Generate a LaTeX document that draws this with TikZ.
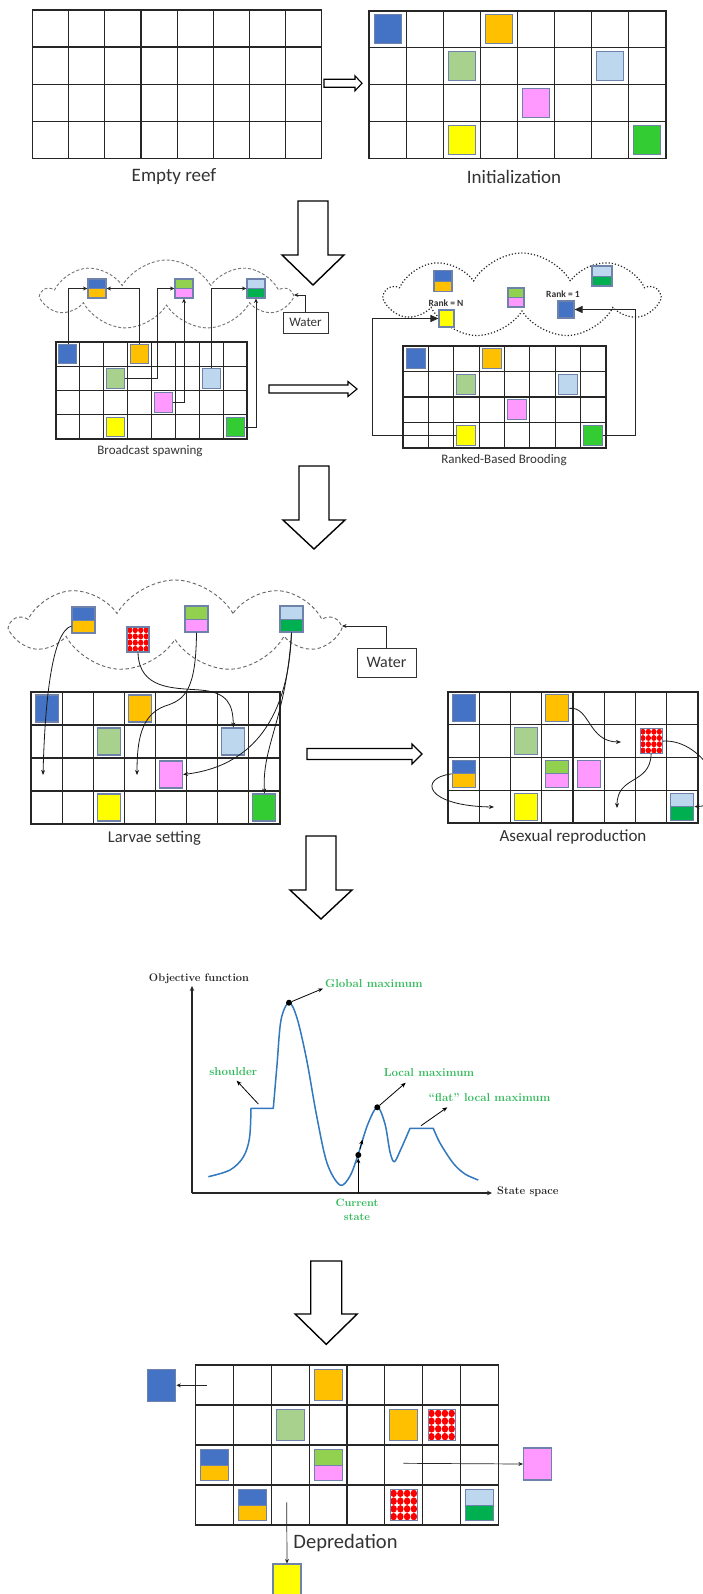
\documentclass[tikz,border=0pt]{standalone}
\usepackage{fontspec}
\usetikzlibrary{shapes.symbols,arrows.meta,calc}
\newfontfamily\carl{Carlito}
\definecolor{cblue}{RGB}{68,114,196}
\definecolor{corange}{RGB}{255,192,0}
\definecolor{clgreen}{RGB}{169,209,142}
\definecolor{clblue}{RGB}{189,215,238}
\definecolor{cpink}{RGB}{255,153,255}
\definecolor{cyellow}{RGB}{255,255,0}
\definecolor{cgreen}{RGB}{51,204,51}
\definecolor{cdgreen}{RGB}{0,176,80}
\definecolor{clime}{RGB}{146,208,80}
\definecolor{sqedge}{RGB}{110,130,170}
\definecolor{gtext}{RGB}{50,185,90}
\definecolor{curveblue}{RGB}{50,120,190}
\tikzset{
 gridln/.style={draw=black!85, line width=1.2pt},
 sq/.style={draw=sqedge, line width=1.1pt, inner sep=0pt},
 conn/.style={draw=black!85, line width=0.7pt, -{Stealth[length=4.5pt,width=4pt]}},
 connbig/.style={draw=black!85, line width=0.9pt, -{Triangle[length=8pt,width=7pt]}},
 curv/.style={draw=black!90, line width=0.8pt, -{Stealth[length=5pt,width=4pt]}},
 hollow/.style={draw=black, line width=1.4pt, fill=white, line join=miter},
 cloudshape/.style={cloud, cloud puffs=9, cloud puff arc=120, cloud ignores aspect, inner sep=0pt},
 lbl/.style={text=black!80, inner sep=0pt},
 glbl/.style={text=gtext, inner sep=0pt, font=\bfseries\fontsize{11.5}{13.5}\selectfont},
 klbl/.style={text=black!85, inner sep=0pt, font=\bfseries\fontsize{11}{13}\selectfont},
 thinarr/.style={draw=black, line width=0.8pt, -{Stealth[length=5pt,width=4pt]}},
 axis/.style={draw=black!85, line width=1.2pt, -{Stealth[length=5pt,width=4.5pt]}},
 gdot/.style={circle, fill=black, inner sep=0pt, minimum size=6pt},
 gcurve/.style={draw=curveblue, line width=1.5pt, line join=round},
}
\newcommand\mkgrid[5]{%
  \foreach \i in {0,...,8} \draw[gridln] ({#2+\i*#4},#3) -- ({#2+\i*#4},{#3+4*#5});
  \foreach \j in {0,...,4} \draw[gridln] ({#2-0.6},{#3+\j*#5}) -- ({#2+8*#4+0.6},{#3+\j*#5});
  \foreach \i in {0,...,7}{\foreach \j in {0,...,3}{\coordinate (#1-\i-\j) at ({#2+(\i+0.5)*#4},{#3+(\j+0.5)*#5});}}%
}
\newcommand\plainsq[5]{\node[sq, fill=#5, minimum width=#3pt, minimum height=#4pt] (#1) at #2 {};}
\newcommand\pairsq[6]{\node[sq, minimum width=#3pt, minimum height=#4pt, path picture={
   \fill[#5] (path picture bounding box.north west) rectangle (path picture bounding box.east);
   \fill[#6] (path picture bounding box.west) rectangle (path picture bounding box.south east);
   \draw[sqedge, line width=0.8pt] (path picture bounding box.west) -- (path picture bounding box.east);}] (#1) at #2 {};}
\newcommand\chksq[4]{\node[sq, fill=white, minimum width=#3pt, minimum height=#4pt, path picture={
   \foreach \a in {-1.5,-0.5,0.5,1.5}{\foreach \b in {-1.5,-0.5,0.5,1.5}{
     \fill[red] ($(path picture bounding box.center)+(\a*#3/4,\b*#4/4)$) ellipse [x radius={#3/8.3*1pt}, y radius={#4/8.3*1pt}];}}}] (#1) at #2 {};}
\newcommand\bigdown[5]{\draw[hollow] ({#1-#5},#2) -- ({#1+#5},#2) -- ({#1+#5},#3) -- ({#1+31},#3) -- (#1,#4) -- ({#1-31},#3) -- ({#1-#5},#3) -- cycle;}
\newcommand\hollowright[6]{\draw[hollow, line width=1.1pt] (#1,{#3-#4}) -- ({#2-#6},{#3-#4}) -- ({#2-#6},{#3-#5}) -- (#2,#3) -- ({#2-#6},{#3+#5}) -- ({#2-#6},{#3+#4}) -- (#1,{#3+#4}) -- cycle;}
\begin{document}
\begin{tikzpicture}[x=1pt,y=-1pt]
\useasboundingbox[fill=white] (0,0) rectangle (702,1594);

% ---------- Section 1: empty reef / initialization
\mkgrid{E}{32.4}{10}{36.175}{37.075}
\mkgrid{I}{369}{11}{37.125}{36.825}
\plainsq{i1}{(I-0-0)}{27}{29}{cblue}
\plainsq{i2}{(I-3-0)}{27}{29}{corange}
\plainsq{i3}{(I-2-1)}{27}{29}{clgreen}
\plainsq{i4}{(I-6-1)}{27}{29}{clblue}
\plainsq{i5}{(I-4-2)}{27}{29}{cpink}
\plainsq{i6}{(I-2-3)}{27}{29}{cyellow}
\plainsq{i7}{(I-7-3)}{27}{29}{cgreen}
\node[lbl, font={\carl\fontsize{19}{22}\selectfont}] (tE) at (174,177) {Empty reef};
\node[lbl, font={\carl\fontsize{19}{22}\selectfont}] (tI) at (514,177) {Initialization};
\hollowright{324}{362}{83.3}{4}{7.5}{7}

\bigdown{313}{201}{255}{285}{15}

% ---------- Section 2: broadcast spawning
\node[cloudshape, draw=black!55, dashed, dash pattern=on 3pt off 2pt, line width=0.9pt, minimum width=247pt, minimum height=70pt] (cB) at (166.5,295) {};
\mkgrid{B}{56}{342}{23.875}{24.25}
\plainsq{bb1}{(B-0-0)}{18}{19.5}{cblue}
\plainsq{bb2}{(B-3-0)}{18}{19.5}{corange}
\plainsq{bb3}{(B-2-1)}{18}{19.5}{clgreen}
\plainsq{bb4}{(B-6-1)}{18}{19.5}{clblue}
\plainsq{bb5}{(B-4-2)}{18}{19.5}{cpink}
\plainsq{bb6}{(B-2-3)}{18}{19.5}{cyellow}
\plainsq{bb7}{(B-7-3)}{18}{19.5}{cgreen}
\pairsq{pB1}{(97,288.5)}{18}{19}{cblue}{corange}
\pairsq{pB2}{(184,288.5)}{18}{19}{clime}{cpink}
\pairsq{pB3}{(256,288.5)}{18}{19}{clblue}{cdgreen}
\draw[conn] (bb1.north) |- (pB1.west);
\draw[conn] (bb2.north) |- (pB1.east);
\draw[conn] (bb3.east) -- ++(32.5,0) |- (pB2.west);
\draw[conn] (bb5.east) -| (pB2.south);
\draw[conn] (bb4.north) |- (pB3.west);
\draw[conn] (bb7.east) -| (pB3.south);
\node[draw=black!80, line width=0.8pt, lbl, font={\carl\fontsize{13}{15}\selectfont}, minimum width=45pt, minimum height=21pt] (wB) at (305.5,322.5) {Water};
\draw[conn] (wB.north) |- (cB.east);
\node[lbl, font={\carl\fontsize{13}{15}\selectfont}] (tB) at (150,451) {Broadcast spawning};
\hollowright{269}{357}{389}{4}{7.5}{9}

% ---------- Section 3: ranked-based brooding
\node[cloudshape, draw=black!85, dotted, line width=1.2pt, minimum width=272pt, minimum height=85pt] (cR) at (522,295.5) {};
\mkgrid{R}{403}{346}{25.375}{25.5}
\plainsq{rb1}{(R-0-0)}{19}{20}{cblue}
\plainsq{rb2}{(R-3-0)}{19}{20}{corange}
\plainsq{rb3}{(R-2-1)}{19}{20}{clgreen}
\plainsq{rb4}{(R-6-1)}{19}{20}{clblue}
\plainsq{rb5}{(R-4-2)}{19}{20}{cpink}
\plainsq{rb6}{(R-2-3)}{19}{20}{cyellow}
\plainsq{rb7}{(R-7-3)}{19}{20}{cgreen}
\pairsq{pR1}{(443,281)}{18}{21}{cblue}{corange}
\pairsq{pR2}{(516,297.5)}{16}{19}{clime}{cpink}
\pairsq{pR3}{(602,276)}{20}{20}{clblue}{cdgreen}
\plainsq{yR}{(446.5,318.5)}{15}{17}{cyellow}
\plainsq{bR}{(566,309.5)}{16}{17}{cblue}
\node[lbl, font={\carl\bfseries\fontsize{9.5}{11}\selectfont}] (rN) at (446,303) {Rank = N};
\node[lbl, font={\carl\bfseries\fontsize{9.5}{11}\selectfont}] (r1) at (563,294) {Rank = 1};
\draw[connbig] (rb6.west) -- ++(-84,0) |- (yR.west);
\draw[connbig] (rb7.east) -- ++(32.5,0) |- (bR.east);
\node[lbl, font={\carl\fontsize{13}{15}\selectfont}] (tR) at (504,460) {Ranked-Based Brooding};

\bigdown{314}{466}{520}{549}{15}

% ---------- Section 4: larvae setting
\node[cloudshape, draw=black!60, dashed, dash pattern=on 3.5pt off 2.5pt, line width=0.9pt, minimum width=324pt, minimum height=92pt] (cL) at (175,626) {};
\mkgrid{L}{31}{692}{31.125}{33}
\plainsq{lb1}{(L-0-0)}{23}{27}{cblue}
\plainsq{lb2}{(L-3-0)}{23}{27}{corange}
\plainsq{lb3}{(L-2-1)}{23}{27}{clgreen}
\plainsq{lb4}{(L-6-1)}{23}{27}{clblue}
\plainsq{lb5}{(L-4-2)}{23}{27}{cpink}
\plainsq{lb6}{(L-2-3)}{23}{27}{cyellow}
\plainsq{lb7}{(L-7-3)}{23}{27}{cgreen}
\pairsq{pL1}{(83.5,620)}{23}{26}{cblue}{corange}
\chksq{cK}{(138,639.5)}{22}{25}
\pairsq{pL2}{(196.5,619)}{23}{26}{clime}{cpink}
\pairsq{pL3}{(291.5,619)}{23}{26}{clblue}{cdgreen}
\node[draw=black!80, line width=0.9pt, lbl, font={\carl\fontsize{16}{18}\selectfont}, minimum width=59pt, minimum height=29pt] (wL) at (386.5,662.5) {Water};
\draw[conn] (wL.north) |- (cL.east);
\coordinate (eL1) at (43,775);
\coordinate (eL3) at (137,775);
\draw[curv] ($(pL1.west)+(0,6)$) .. controls (52,632) and (45,700) .. (eL1);
\draw[curv] (cK.south) .. controls (139,690) and (175,688) .. (200,690) .. controls (228,692) and (233,705) .. (lb4.north);
\draw[curv] (pL2.south) .. controls (196,690) and (185,700) .. (165,706) .. controls (141,715) and (137,740) .. (eL3);
\draw[curv] (pL3.south) .. controls (289,705) and (262,765) .. (lb5.east);
\draw[curv] (pL3.south) .. controls (286,720) and (262,745) .. (lb7.north);
\node[lbl, font={\carl\fontsize{16.5}{19}\selectfont}] (tL) at (154.3,838.3) {Larvae setting};
\hollowright{307}{422}{754}{5.5}{10}{10}

% ---------- Section 5: asexual reproduction
\mkgrid{A}{448}{692}{31.25}{32.75}
\plainsq{ab1}{(A-0-0)}{23}{27}{cblue}
\plainsq{ab2}{(A-3-0)}{23}{27}{corange}
\plainsq{ab3}{(A-2-1)}{23}{27}{clgreen}
\chksq{cA}{(A-6-1)}{22}{25}
\pairsq{pA1}{(A-0-2)}{23}{27}{cblue}{corange}
\pairsq{pA2}{(A-3-2)}{23}{27}{clime}{cpink}
\plainsq{ab4}{(A-4-2)}{23}{27}{cpink}
\plainsq{ab5}{(A-2-3)}{23}{27}{cyellow}
\pairsq{pA3}{(A-7-3)}{23}{27}{clblue}{cdgreen}
\coordinate (eA1) at (621,742);
\coordinate (eA2) at (617,808);
\coordinate (eA4) at (494,807);
\draw[curv] (ab2.east) .. controls (590,706) and (588,742) .. (eA1);
\draw[curv] (cA.south) .. controls (650,785) and (617,775) .. (eA2);
\draw[curv] (cA.east) .. controls (705,738) and (740,805) .. (pA3.east);
\draw[curv] (pA1.west) .. controls (418,778) and (425,806) .. (eA4);
\node[lbl, font={\carl\fontsize{17}{20}\selectfont}] (tA) at (573,837) {Asexual reproduction};

\bigdown{321}{836}{890}{919}{15}

% ---------- Section 6: landscape graph
\coordinate (O) at (192,1193);
\coordinate (Yt) at (192,986);
\coordinate (Xr) at (492,1193);
\draw[axis] (O) -- (Yt);
\draw[axis] (O) -- (Xr);
\node[klbl] (yl) at (199,979) {Objective function};
\node[klbl, anchor=west] (xl) at (497,1192) {State space};
\draw[gcurve] plot[smooth, tension=0.55] coordinates {(208.3,1176.7) (230,1170) (243.3,1157) (249.5,1138) (251,1108.3)} -- (273.3,1108.3)
  -- plot[smooth, tension=0.55] coordinates {(273.3,1108.3) (277,1065) (281,1020) (289,1002.7) (297,1018) (306.7,1060) (316.5,1115) (327,1163) (340,1185) (350,1176) (358.3,1154) (367.5,1125) (377.3,1107.3) (385,1124) (390,1152) (394.3,1161.7) (400.5,1150) (410,1128.3)}
  -- (433.3,1128.3)
  -- plot[smooth, tension=0.55] coordinates {(433.3,1128.3) (440,1143) (453.3,1163.3) (465,1174) (478.3,1180)};
\node[gdot] (gmax) at (289,1002.7) {};
\node[gdot] (lmax) at (377.3,1107.3) {};
\node[gdot] (cur) at (358.3,1155) {};
\coordinate (agm) at (323,988.5);
\coordinate (sh0) at (258.3,1104);
\coordinate (sh1) at (236.7,1080.7);
\coordinate (alm) at (405.7,1082.7);
\coordinate (fl0) at (421,1125.7);
\coordinate (fl1) at (447.3,1107.3);
\coordinate (cs0) at (358.3,1193);
\coordinate (ca0) at (360,1149);
\coordinate (ca1) at (362.5,1139.5);
\draw[thinarr] (gmax) -- (agm);
\draw[thinarr] (sh0) -- (sh1);
\draw[thinarr] (lmax) -- (alm);
\draw[thinarr] (fl0) -- (fl1);
\draw[thinarr] (cs0) -- (cur.south);
\draw[thinarr] (ca0) -- (ca1);
\node[glbl, anchor=west] (tgm) at (325,983.5) {Global maximum};
\node[glbl] (tsh) at (233.3,1071.7) {shoulder};
\node[glbl] (tlm) at (429,1073) {Local maximum};
\node[glbl] (tfl) at (489.5,1097.7) {“flat” local maximum};
\node[glbl, align=center, font=\bfseries\fontsize{10.7}{13.5}\selectfont] (tcs) at (357,1210) {Current\\state};

\bigdown{326.2}{1261}{1314}{1344.3}{15.5}

% ---------- Section 7: depredation
\mkgrid{D}{195.7}{1365}{37.825}{40}
\plainsq{dq1}{(D-3-0)}{28}{31}{corange}
\plainsq{dq2}{(D-2-1)}{28}{31}{clgreen}
\plainsq{dq3}{(D-5-1)}{28}{31}{corange}
\chksq{dck1}{(D-6-1)}{27}{31}
\pairsq{dp1}{(D-0-2)}{28}{31}{cblue}{corange}
\pairsq{dp2}{(D-3-2)}{28}{31}{clime}{cpink}
\pairsq{dp3}{(D-1-3)}{28}{31}{cblue}{corange}
\chksq{dck2}{(D-5-3)}{27}{31}
\pairsq{dp4}{(D-7-3)}{28}{31}{clblue}{cdgreen}
\plainsq{dbo}{(161.8,1385.3)}{28}{32}{cblue}
\plainsq{dpo}{(537.5,1464)}{28}{32}{cpink}
\plainsq{dyo}{(287,1580)}{28}{32}{cyellow}
\coordinate (dA0) at (206.7,1385.3);
\coordinate (dA1) at (403.3,1463.3);
\coordinate (dA2) at (286.7,1502.3);
\draw[conn] (dA0) -- (dbo.east);
\draw[conn] (dA1) -- (dpo.west);
\draw[conn] (dA2) -- (dyo.north);
\node[lbl, font={\carl\fontsize{20.5}{24}\selectfont}] (tD) at (345.5,1542.7) {Depredation};
\end{tikzpicture}
\end{document}
